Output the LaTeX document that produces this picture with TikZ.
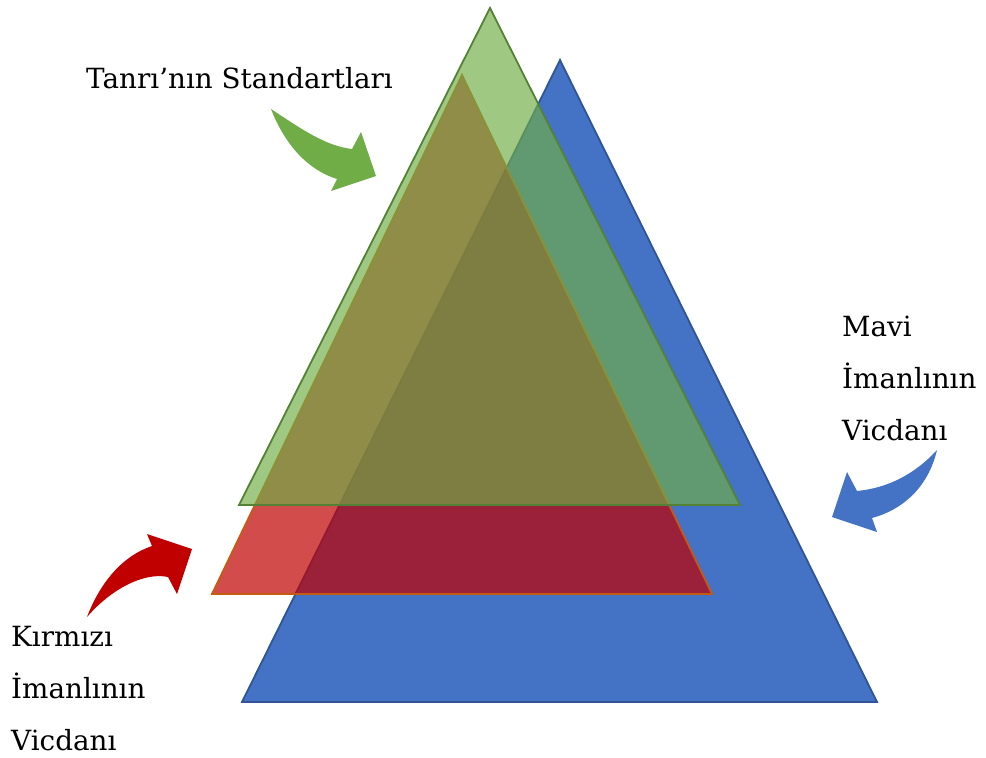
\documentclass[tikz,border=0pt]{standalone}
\usepackage{fontspec}
\setmainfont{DejaVu Serif}
\begin{document}
\begin{tikzpicture}[x=1pt,y=-1pt,
  tri/.style={line width=1.8pt, line join=miter},
  lbl/.style={anchor=base west, inner sep=0pt, font=\fontsize{27.8}{32}\selectfont},
]
\definecolor{cblue}{HTML}{4472C4}
\definecolor{cblueb}{HTML}{2F5597}
\definecolor{cgreen}{HTML}{70AD47}
\definecolor{cgreenb}{HTML}{548235}
\definecolor{cred}{HTML}{C00000}
\definecolor{credb}{HTML}{C55A11}
\useasboundingbox (0,0) rectangle (986,758);
\fill[white] (0,0) rectangle (986,758);
% blue triangle
\coordinate (b1) at (560,60);
\coordinate (b2) at (242,702);
\coordinate (b3) at (877,702);
\filldraw[tri, fill=cblue, draw=cblueb] (b1) -- (b2) -- (b3) -- cycle;
% red triangle
\coordinate (r1) at (462,75);
\coordinate (r2) at (212,594);
\coordinate (r3) at (712,594);
\fill[cred, fill opacity=0.7] (r1) -- (r2) -- (r3) -- cycle;
\draw[tri, draw=credb] (r1) -- (r2) -- (r3) -- cycle;
% green triangle
\coordinate (g1) at (490,8);
\coordinate (g2) at (239,505);
\coordinate (g3) at (740,505);
\fill[cgreen, fill opacity=0.67] (g1) -- (g2) -- (g3) -- cycle;
\draw[tri, draw=cgreenb] (g1) -- (g2) -- (g3) -- cycle;
% green arrow
\coordinate (ga) at (271,109);
\coordinate (gb) at (352,149);
\coordinate (gc) at (361,132);
\coordinate (gd) at (376,176);
\coordinate (ge) at (331,191);
\coordinate (gf) at (337,179);
\fill[cgreen] (ga) .. controls (300,128) and (325,146) .. (gb) -- (gc) -- (gd) -- (ge) -- (gf)
  .. controls (308,170) and (285,145) .. (ga) -- cycle;
% red arrow
\coordinate (ra) at (87,617);
\coordinate (rb) at (152,546);
\coordinate (rc) at (147,534);
\coordinate (rd) at (192,549);
\coordinate (re) at (177,594);
\coordinate (rf) at (168,577);
\fill[cred] (ra) .. controls (100,583) and (122,556) .. (rb) -- (rc) -- (rd) -- (re) -- (rf)
  .. controls (145,572) and (112,588) .. (ra) -- cycle;
% blue arrow
\coordinate (ba) at (937,450);
\coordinate (bb) at (857,491);
\coordinate (bc) at (847,472);
\coordinate (bd) at (832,517);
\coordinate (be) at (877,532);
\coordinate (bf) at (872,518);
\fill[cblue] (ba) .. controls (915,474) and (888,488) .. (bb) -- (bc) -- (bd) -- (be) -- (bf)
  .. controls (902,510) and (928,488) .. (ba) -- cycle;
% labels
\node[lbl] (t1) at (86,88) {Tanrı’nın Standartları};
\node[lbl] (m1) at (842,336) {Mavi};
\node[lbl] (m2) at (842,388) {İmanlının};
\node[lbl] (m3) at (842,440) {Vicdanı};
\node[lbl] (k1) at (11,646) {Kırmızı};
\node[lbl] (k2) at (11,698) {İmanlının};
\node[lbl] (k3) at (11,750) {Vicdanı};
\end{tikzpicture}
\end{document}
